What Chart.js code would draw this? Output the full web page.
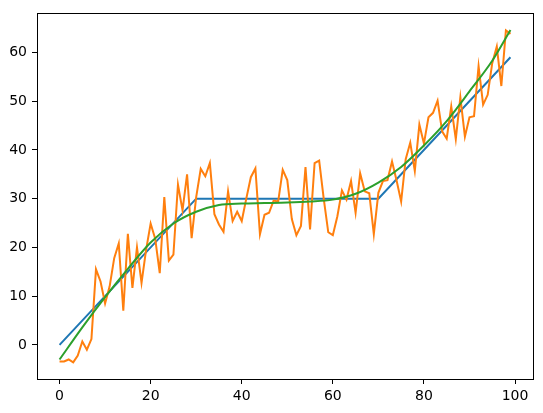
<!DOCTYPE html>
<html>
<head>
<meta charset="utf-8">
<script src="https://cdn.jsdelivr.net/npm/chart.js@4/dist/chart.umd.min.js"></script>
<style>
  html, body { margin: 0; padding: 0; background: #fff; }
  #wrap { width: 543px; height: 413px; }
</style>
</head>
<body>
<div id="wrap"><canvas id="chart" width="543" height="413"></canvas></div>
<script>
// piecewise linear trend (vertices)
const trendX = [0, 30, 70, 99];
const trendY = [0, 30, 30, 59];

// noisy samples, x = 0..99
const noisyY = [
  -3.4, -3.4, -3.0, -3.6, -2.2, 0.7, -1.0, 1.2, 15.5, 13.0,
  8.5, 12.0, 17.8, 20.8, 7.0, 22.8, 11.7, 20.0, 12.7, 19.5,
  24.9, 21.8, 14.7, 30.3, 17.3, 18.5, 32.9, 27.6, 35.0, 21.9,
  30.3, 36.1, 34.6, 37.3, 26.8, 24.7, 23.2, 31.5, 25.4, 27.3,
  25.4, 30.0, 34.4, 36.2, 22.7, 26.7, 27.1, 29.6, 29.4, 35.9,
  33.8, 25.8, 22.5, 24.4, 36.5, 23.7, 37.3, 37.8, 30.0, 23.1,
  22.5, 26.4, 31.7, 29.8, 33.6, 27.1, 35.2, 31.5, 31.1, 22.7,
  31.2, 33.6, 33.8, 37.6, 33.7, 29.4, 38.1, 41.5, 35.7, 45.2,
  41.3, 46.7, 47.6, 50.1, 43.8, 42.3, 48.9, 42.2, 50.8, 42.7,
  46.7, 46.9, 57.2, 49.3, 51.3, 57.8, 61.2, 53.1, 64.5, 63.8
];

// smooth fit, sampled
const fitX = [0, 5, 10, 15, 20, 25, 30, 35, 40, 45, 50, 55, 60, 65, 70, 75, 80, 85, 90, 95, 99];
const fitY = [-3.0, 3.6, 9.8, 15.6, 21.0, 24.9, 27.3, 28.7, 29.0, 29.1, 29.2, 29.4, 29.8, 31.0, 33.3, 36.5, 40.9, 45.9, 52.0, 58.3, 64.6];

const xTicks = [0, 20, 40, 60, 80, 100];
const yTicks = [0, 10, 20, 30, 40, 50, 60];

const boxPlugin = {
    id: 'box',
    afterDraw(chart) {
        const { ctx, chartArea: a } = chart;
        ctx.save();
        ctx.strokeStyle = '#000';
        ctx.lineWidth = 1;
        ctx.strokeRect(Math.round(a.left) + 0.5, Math.round(a.top) + 0.5,
            Math.round(a.right - a.left), Math.round(a.bottom - a.top));
        ctx.restore();
    }
};

const tickFont = { family: 'DejaVu Sans', size: 14 };

new Chart(document.getElementById('chart'), {
    type: 'line',
    data: {
        datasets: [
            {
                data: trendX.map((x, i) => ({ x, y: trendY[i] })),
                borderColor: '#1f77b4', borderWidth: 2, pointRadius: 0, order: 3
            },
            {
                data: noisyY.map((y, i) => ({ x: i, y })),
                borderColor: '#ff7f0e', borderWidth: 2, pointRadius: 0, order: 2
            },
            {
                data: fitX.map((x, i) => ({ x, y: fitY[i] })),
                borderColor: '#2ca02c', borderWidth: 2, pointRadius: 0, order: 1,
                cubicInterpolationMode: 'monotone'
            }
        ]
    },
    options: {
        responsive: false,
        animation: false,
        devicePixelRatio: 1,
        layout: { padding: { top: 10, right: 10, left: 0, bottom: 0 } },
        plugins: { legend: { display: false }, tooltip: { enabled: false } },
        scales: {
            x: {
                type: 'linear', min: -4.95, max: 103.95,
                afterBuildTicks: s => { s.ticks = xTicks.map(v => ({ value: v })); },
                afterFit: s => { s.height = 34; },
                grid: { drawOnChartArea: false, drawTicks: true, tickLength: 5, color: '#000' },
                border: { display: true, color: '#000' },
                ticks: { color: '#000', font: tickFont, padding: 4, maxRotation: 0 }
            },
            y: {
                type: 'linear', min: -7.0, max: 68.0,
                afterBuildTicks: s => { s.ticks = yTicks.map(v => ({ value: v })); },
                afterFit: s => { s.width = 37; },
                grid: { drawOnChartArea: false, drawTicks: true, tickLength: 5, color: '#000' },
                border: { display: true, color: '#000' },
                ticks: { color: '#000', font: tickFont, padding: 5 }
            }
        }
    },
    plugins: [boxPlugin]
});
</script>
</body>
</html>
